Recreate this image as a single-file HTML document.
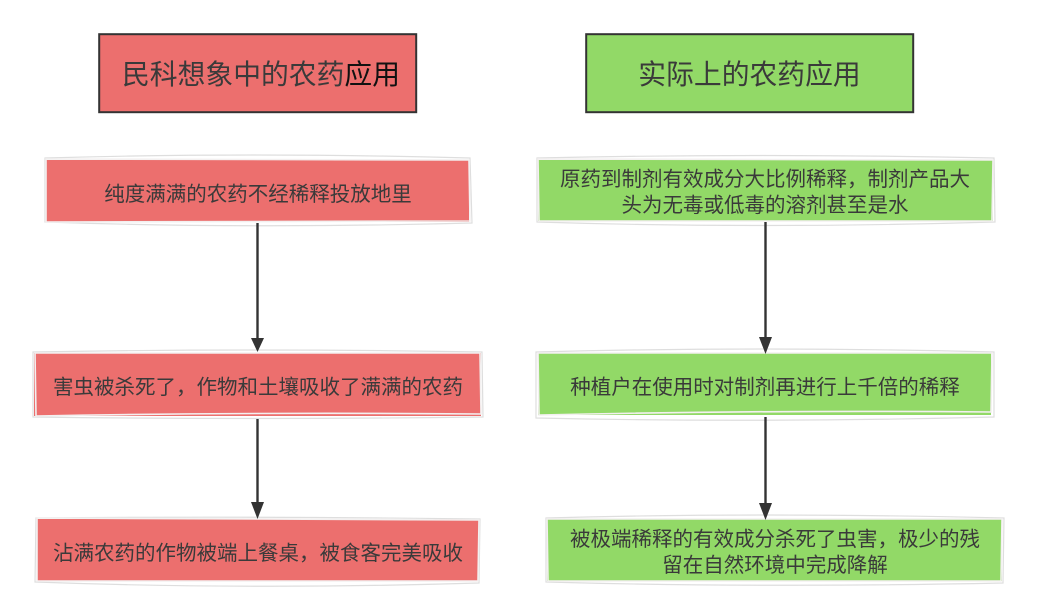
<!DOCTYPE html>
<html lang="zh">
<head>
<meta charset="utf-8">
<style>
html,body{margin:0;padding:0;background:#fff;width:1037px;height:616px;overflow:hidden}
svg{display:block;filter:blur(0.35px)}
text{font-family:"Liberation Sans","Noto Sans CJK SC",sans-serif;fill:#3a3a3a;text-anchor:middle;font-weight:400}
.t{font-size:27.8px}
.b{font-size:20.5px}
.e{fill:none;stroke:#dedede;stroke-width:1.2}
.w{fill:none;stroke:#f3f0f0;stroke-width:1.6}
</style>
</head>
<body>
<svg width="1037" height="616" viewBox="0 0 1037 616" xmlns="http://www.w3.org/2000/svg">
<rect x="99.2" y="34.2" width="317" height="78" fill="#ec6f6e" stroke="#333" stroke-width="2"/>
<rect x="586.2" y="34.2" width="327" height="78" fill="#92d967" stroke="#333" stroke-width="2"/>
<text class="t" x="261" y="84">民科想象中的农药<tspan fill="#111">应用</tspan></text>
<text class="t" x="749.5" y="84">实际上的农药应用</text>

<rect x="46" y="160" width="423" height="62" fill="#ec6f6e"/>
<path class="e" d="M45 158Q250 152 470 158L472 223Q250 229 45 222Z"/>
<path class="w" d="M46 159L469 160L470 221L46 222Z"/>
<rect x="34" y="353" width="447" height="63" fill="#ec6f6e"/>
<path class="e" d="M33 352Q250 348 482 352L483 417Q250 420 33 417Z"/>
<path class="w" d="M35 353L480 353L481 414Q250 412 36 416Z"/>
<rect x="37" y="519" width="442" height="62" fill="#ec6f6e"/>
<path class="e" d="M36 518Q250 516 480 519L479 583Q250 590 35 582Z"/>
<path class="w" d="M37 518L479 520L478 581L37 581Z"/>

<rect x="538" y="160" width="455" height="61" fill="#92d967"/>
<path class="e" d="M537 158Q760 153 994 158L995 222Q760 229 537 222Z"/>
<path class="w" d="M538 159L993 160L992 221L539 221Z"/>
<rect x="538" y="353" width="453" height="62" fill="#92d967"/>
<path class="e" d="M536 352Q760 346 994 352L994 417Q760 423 536 418Z"/>
<path class="w" d="M538 353L992 353L991 412Q760 410 539 415Z"/>
<rect x="547" y="519" width="455" height="62" fill="#92d967"/>
<path class="e" d="M546 518Q760 512 1004 518L1003 583Q760 588 546 582Z"/>
<path class="w" d="M547 519L1002 519L1001 581L548 581Z"/>

<text class="b" x="258" y="201">纯度满满的农药不经稀释投放地里</text>
<text class="b" x="258" y="394">害虫被杀死了，作物和土壤吸收了满满的农药</text>
<text class="b" x="258" y="560">沾满农药的作物被端上餐桌，被食客完美吸收</text>
<text class="b" x="765" y="186">原药到制剂有效成分大比例稀释，制剂产品大</text>
<text class="b" x="765" y="212">头为无毒或低毒的溶剂甚至是水</text>
<text class="b" x="765" y="394">种植户在使用时对制剂再进行上千倍的稀释</text>
<text class="b" x="775" y="546">被极端稀释的有效成分杀死了虫害，极少的残</text>
<text class="b" x="775" y="572">留在自然环境中完成降解</text>

<g stroke="#333" stroke-width="2.4" fill="#333">
<line x1="257.5" y1="223" x2="257.5" y2="342"/>
<path stroke="none" d="M251 338H264L257.5 352Z"/>
<line x1="257.5" y1="419" x2="257.5" y2="508"/>
<path stroke="none" d="M251 502H264L257.5 519Z"/>
<line x1="765.5" y1="222" x2="765.5" y2="342"/>
<path stroke="none" d="M759 337H772L765.5 354Z"/>
<line x1="765.5" y1="417" x2="765.5" y2="510"/>
<path stroke="none" d="M759 503H772L765.5 520Z"/>
</g>
</svg>
</body>
</html>
